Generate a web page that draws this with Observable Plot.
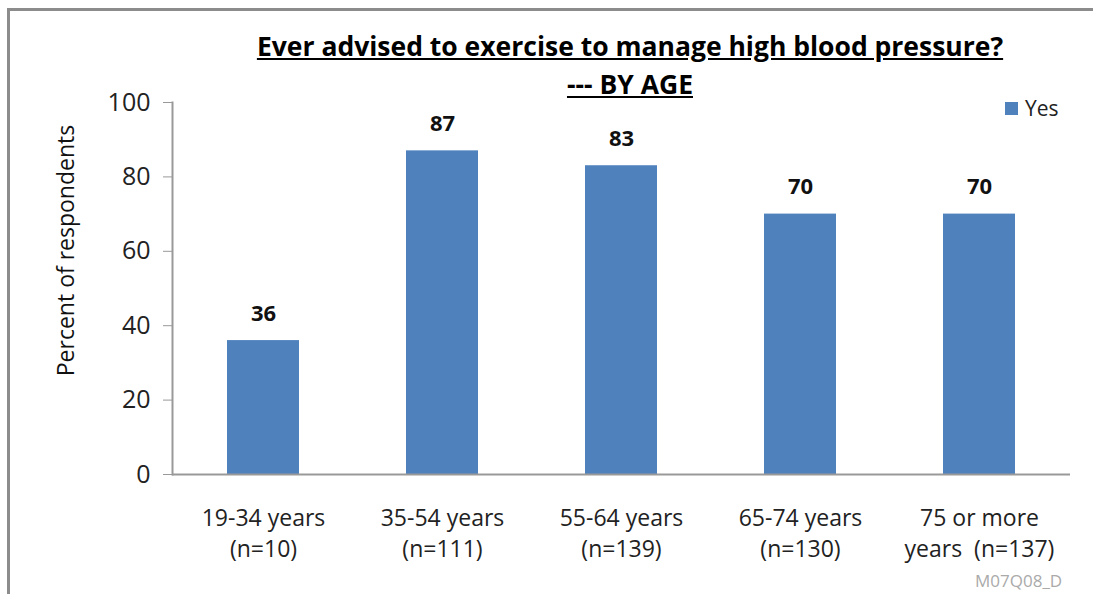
<!DOCTYPE html>
<html>
<head>
<meta charset="utf-8">
<script src="https://cdn.jsdelivr.net/npm/d3@7"></script>
<script src="https://cdn.jsdelivr.net/npm/@observablehq/plot@0.6"></script>
<style>
  html, body { margin: 0; padding: 0; background: #fff; }
  body { width: 1093px; height: 594px; position: relative; overflow: hidden; font-family: "Open Sans", sans-serif; }
  #chart { position: absolute; left: 0; top: 0; }
  .border-top { position: absolute; left: 7px; top: 8px; right: 0; height: 3px; background: #8c8c8c; }
  .border-left { position: absolute; left: 7px; top: 8px; bottom: 0; width: 3px; background: #8c8c8c; }
  .title { position: absolute; left: 0; width: 1260px; text-align: center; font-weight: bold; text-decoration: underline; font-size: 26.5px; line-height: 32px; color: #000; }
  .legend { position: absolute; left: 1005px; top: 94px; font-size: 21px; line-height: 28px; color: #222; display: flex; align-items: center; }
  .legend .sw { width: 13px; height: 13px; background: #4F81BD; margin-right: 7px; }
  .wm { position: absolute; left: 975px; top: 569px; font-size: 17px; color: #aaa; }
</style>
</head>
<body>
<div id="chart"></div>
<div class="border-top"></div>
<div class="border-left"></div>
<div class="title" style="top:30px">Ever advised to exercise to manage high blood pressure?</div>
<div class="title" style="top:68px">--- BY AGE</div>
<div class="legend"><div class="sw"></div><span>Yes</span></div>
<div class="wm">M07Q08_D</div>
<script>
const categories = ["19-34 years\n(n=10)", "35-54 years\n(n=111)", "55-64 years\n(n=139)", "65-74 years\n(n=130)", "75 or more\nyears  (n=137)"];
const yesValues = [36, 87, 83, 70, 70];
const yTicks = [0, 20, 40, 60, 80, 100];

const data = categories.map((c, i) => ({category: c, value: yesValues[i]}));

const chart = Plot.plot({
  width: 1093,
  height: 594,
  marginLeft: 172,
  marginRight: 23,
  marginTop: 102,
  marginBottom: 120,
  style: {background: "transparent", fontFamily: "'Open Sans', sans-serif", color: "#222"},
  x: {domain: categories, paddingInner: 0.6, paddingOuter: 0.3, label: null},
  y: {domain: [0, 100], label: null},
  marks: [
    Plot.barY(data, {x: "category", y: "value", fill: "#4F81BD"}),
    Plot.ruleY([0], {stroke: "#999", strokeWidth: 2}),
    Plot.frame({anchor: "left", stroke: "#999", strokeWidth: 2}),
    Plot.axisY({ticks: yTicks, tickSize: 9, tickPadding: 13, fontSize: 25, stroke: "#999", label: null, tickFormat: d => d}),
    Plot.axisX({tickSize: 0, tickPadding: 29, fontSize: 23, lineHeight: 1.35, label: null}),
    Plot.text(data, {x: "category", y: "value", text: d => String(d.value), dy: -27, fontSize: 22, fontWeight: "bold", fill: "#111"}),
    Plot.text(["Percent of respondents"], {frameAnchor: "left", textAnchor: "middle", dx: -106, dy: -38, rotate: -90, fontSize: 23, fill: "#111", text: d => d})
  ]
});
document.getElementById("chart").appendChild(chart);
</script>
</body>
</html>
